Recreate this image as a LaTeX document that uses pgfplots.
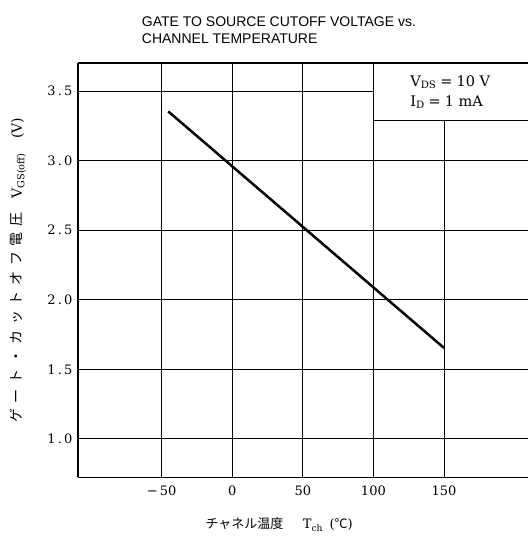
\documentclass[border=0pt]{standalone}
\usepackage{fontspec}
\setmainfont{DejaVu Serif}
\setsansfont{Liberation Sans}
\newfontfamily\jp{Noto Sans CJK JP}
\newfontfamily\jpwide[LetterSpace=40]{Noto Sans CJK JP}
\usepackage{pgfplots}
\pgfplotsset{compat=1.18}

\begin{document}
\begin{tikzpicture}
\begin{axis}[
	scale only axis,
	width=449.7bp, height=414bp,
	xmin=-109, xmax=209.5,
	ymin=0.724, ymax=3.70,
	axis x line*=box, axis y line*=left,
	axis line style={line width=1.6bp},
	xtick={-50,0,50,100,150},
	xticklabels={−\,50,0,50,100,150},
	ytick={1,1.5,2,2.5,3,3.5},
	yticklabels={1\,.\,0,1\,.\,5,2\,.\,0,2\,.\,5,3\,.\,0,3\,.\,5},
	grid=major,
	major grid style={black, line width=0.9bp},
	tick style={draw=none},
	tick label style={font=\fontsize{13bp}{15bp}\selectfont},
	xticklabel style={yshift=-5bp},
	yticklabel style={xshift=-2.3bp},
	xlabel={{\jp チャネル温度}\hspace{1.5em}T\textsubscript{ch}\hspace{0.5em}({\jp ℃})},
	xlabel style={at={(axis description cs:0.5,0)}, anchor=center, xshift=-24bp, yshift=-47.4bp, font=\fontsize{13bp}{15bp}\selectfont},
	ylabel={{\jpwide ゲート・カットオフ電圧}\hspace{1em}V\textsubscript{GS(off)}\hspace{1em}(V)},
	ylabel style={at={(axis description cs:0,0.5)}, anchor=center, yshift=60.3bp, font=\fontsize{14bp}{15bp}\selectfont},
	]

	% VGS(off) vs Tch
	\addplot[black, line width=2.5bp] coordinates {(-45.3,3.354)(150,1.654)};

	% condition box
	\fill[white] (axis cs:100,3.289) rectangle (axis cs:209.5,3.694);
	\draw[line width=1bp] (axis cs:100,3.70) -- (axis cs:100,3.289) -- (axis cs:209.5,3.289);
	\node[anchor=west, inner sep=0pt, font=\fontsize{14.5bp}{16bp}\selectfont] at (axis cs:126,3.565) {V\textsubscript{DS}\;=\;10 V};
	\node[anchor=west, inner sep=0pt, font=\fontsize{14.5bp}{16bp}\selectfont] at (axis cs:126,3.421) {I\textsubscript{D}\;=\;1 mA};
\end{axis}

\node[anchor=north west, inner sep=0pt, align=left, font=\sffamily\fontsize{14bp}{16.7bp}\selectfont]
	at ([xshift=63.4bp,yshift=46.6bp]current axis.north west)
	{GATE TO SOURCE CUTOFF VOLTAGE vs.\\CHANNEL TEMPERATURE};

\pgfresetboundingbox
\path[use as bounding box] ([xshift=-78.3bp,yshift=-58.7bp]current axis.south west) rectangle ([yshift=63.3bp]current axis.north east);
\end{tikzpicture}
\end{document}
